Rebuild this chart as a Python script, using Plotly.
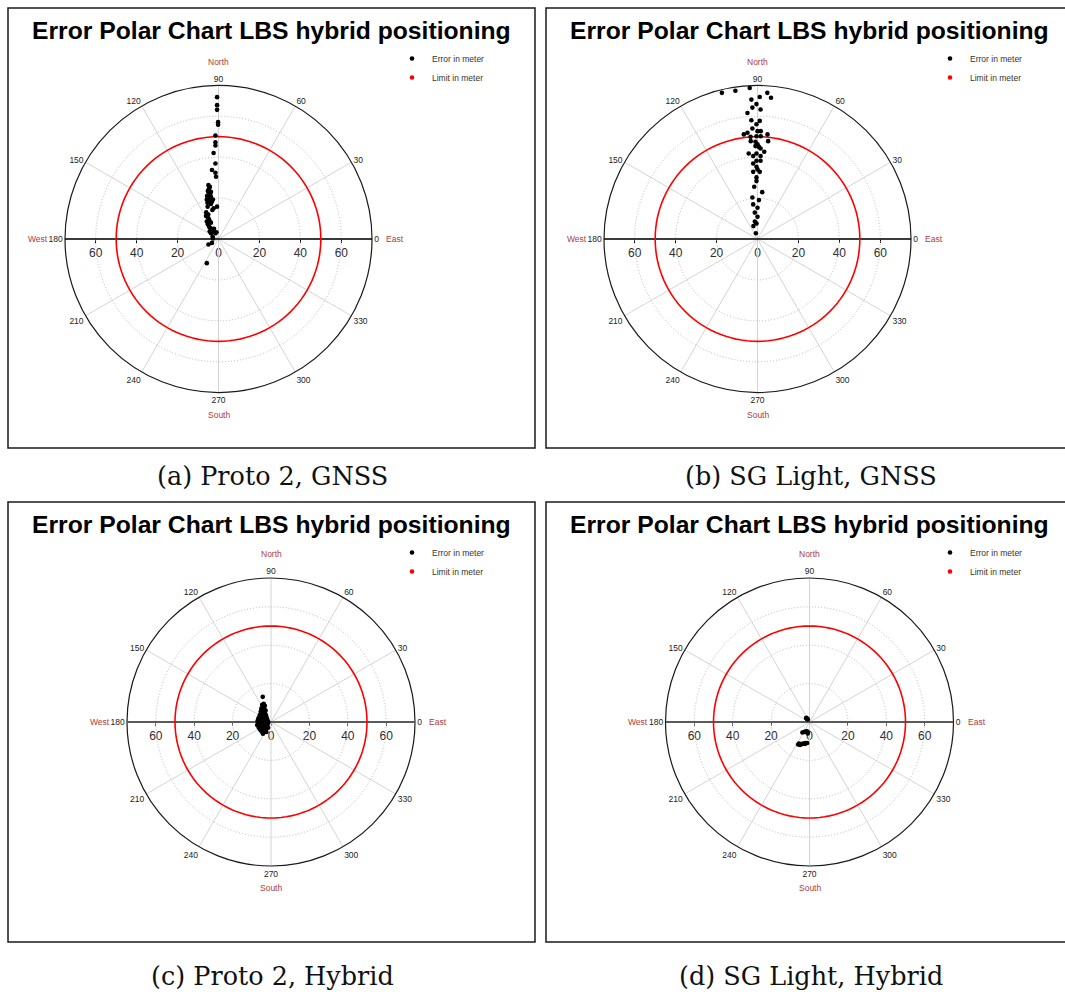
import numpy as np
import plotly.graph_objects as go

W, H = 1065, 992

TITLE = "Error Polar Chart LBS hybrid positioning"
CAPTIONS = ["(a) Proto 2, GNSS", "(b) SG Light, GNSS", "(c) Proto 2, Hybrid", "(d) SG Light, Hybrid"]
SERIES_ERROR = "Error in meter"
SERIES_LIMIT = "Limit in meter"
ANGLE_TICKS = [0, 30, 60, 90, 120, 150, 180, 210, 240, 270, 300, 330]
RADIAL_GRID = [20, 40, 60]
AXIS_TICKS = [-60, -40, -20, 0, 20, 40, 60]
AXIS_TICK_TEXT = ["60", "40", "20", "0", "20", "40", "60"]
RANGE_MAX = 75
LIMIT_M = 50
LIMIT_BEARINGS = list(range(0, 361, 3))

# error offsets in meters (east, north)
A_EAST = [-0.7, -0.7, -0.7, -0.2, -0.2, -1.5, -1.5, -1.5, -2.4, -1.5, -3.2, -1.5, -1.2,
          -4.9, -4.6, -3.7, -4.9, -3.7, -5.7, -4.1, -2.7, -5.4, -3.7, -0.7, -2.4,
          -6.1, -4.9, -5.7, -3.7, -4.6, -3.2, -2.4, -3.7, -1.5, -2.7, -1.0, -2.9,
          -4.9, -3.2, -5.7, -4.2, -5.2, -4.0, -5.6, -4.4, -5.0, -3.2, -6.0, -5.0,
          -4.5, -5.2, -3.9, -4.3, -2.2, -5.3, -3.0]
A_NORTH = [69.3, 65.4, 63.1, 57.1, 55.8, 50.6, 47.3, 45.7, 42.0, 36.9, 33.7, 32.4, 30.4,
           26.3, 24.7, 23.1, 21.8, 20.7, 19.3, 19.0, 19.3, 17.7, 17.1, 15.8, 15.0,
           11.2, 10.1, 8.5, 8.0, 6.0, 4.4, 3.6, 2.8, 2.8, 0.3, 3.3, 1.1,
           -2.7, -1.9, -11.8, 25.5, 23.5, 22.3, 21.0, 20.0, 18.5, 18.2, 13.0, 12.0,
           9.2, 7.2, 5.3, 3.8, 5.0, 15.8, 14.2]

B_EAST = [-17.4, -10.8, -3.8, 4.8, 6.6, 1.1, -3.0, -0.5, -2.5, 1.5, -4.9, -3.0, 1.1,
          -0.5, -2.5, 0.0, 1.6, -4.9, -6.7, 4.9, -3.4, -0.5, 1.6, -3.3, 5.2, -1.0,
          0.0, -1.0, 0.7, 1.5, 3.3, -4.3, -0.5, -2.1, 1.5, -0.5, 1.5, -2.1, -0.5,
          0.0, -2.1, 1.1, -0.5, -0.5, -1.6, 2.3, -2.5, 0.7, -2.1, 0.0, -1.3, 0.0,
          -1.3, -0.5, -2.0, -0.8]
B_NORTH = [71.4, 72.4, 73.8, 71.4, 69.0, 69.4, 68.1, 65.9, 64.2, 63.3, 61.6, 58.0, 57.7,
           56.1, 54.0, 52.7, 52.7, 51.9, 51.1, 51.1, 49.9, 50.2, 50.2, 47.8, 47.8, 47.5,
           46.3, 45.4, 45.0, 44.2, 42.6, 41.8, 41.8, 40.5, 40.5, 38.2, 38.2, 36.9, 35.3,
           34.0, 32.8, 32.8, 30.1, 28.3, 25.5, 22.9, 20.3, 19.0, 16.9, 15.3, 12.9, 10.9,
           8.5, 7.6, 6.3, 2.8]

C_EAST = [-4.3, -3.8, -4.6, -3.2, -4.0, -5.0, -3.5, -4.4, -2.8, -5.3, -3.9, -4.8, -3.1,
          -5.6, -4.2, -2.6, -6.0, -4.9, -3.6, -2.2, -6.6, -5.4, -4.1, -2.9, -1.8, -7.0,
          -6.0, -4.7, -3.4, -2.3, -1.4, -6.5, -5.3, -4.0, -2.8, -1.7, -7.2, -5.9, -4.6,
          -3.3, -2.1, -6.4, -5.1, -3.8, -2.6, -1.5, -5.7, -4.3, -3.0, -4.9, -3.6, -4.2,
          -2.4]
C_NORTH = [13.1, 9.5, 9.0, 8.4, 7.8, 7.2, 6.9, 6.3, 6.0, 5.6, 5.2, 4.7, 4.4, 4.0, 3.7,
           3.5, 3.0, 2.7, 2.4, 2.1, 1.8, 1.5, 1.3, 1.0, 0.8, 0.5, 0.3, 0.1, -0.1, -0.3,
           -0.2, -0.8, -1.0, -1.2, -1.4, -1.1, -1.6, -1.9, -2.1, -2.3, -2.0, -2.8, -3.0,
           -3.2, -3.4, -3.0, -3.9, -4.1, -4.4, -5.0, -5.4, -6.1, -5.2]

D_EAST = [-1.4, -1.6, -1.0, -1.7, -0.9, -3.7, -2.8, -2.1, -1.4, -0.9, -0.9,
          -5.9, -5.4, -4.9, -4.4, -3.7, -3.0, -2.4, -1.9, -1.2]
D_NORTH = [1.7, 2.2, 1.4, 2.0, 1.4, -5.5, -5.2, -5.0, -4.8, -5.2, -6.0,
           -11.7, -11.2, -11.9, -11.6, -11.4, -11.2, -11.4, -10.9, -10.9]

EAST = [A_EAST, B_EAST, C_EAST, D_EAST]
NORTH = [A_NORTH, B_NORTH, C_NORTH, D_NORTH]

# layout geometry (pixels)
PANELS = [
    dict(cx=218.5, cy=239, R=153.5, box=(8, 8, 535, 448), cap_y=476, axis_col="#000000", axis_w=1.4),
    dict(cx=757.5, cy=239, R=153.5, box=(546, 8, 1073, 448), cap_y=476, axis_col="#000000", axis_w=1.4),
    dict(cx=271, cy=722, R=144, box=(8, 502, 535, 942), cap_y=976, axis_col="#5a5a5a", axis_w=2),
    dict(cx=809.5, cy=722, R=144, box=(546, 502, 1073, 942), cap_y=976, axis_col="#5a5a5a", axis_w=2),
]

CARD_COL = "#b03a3a"
SANS = "Liberation Sans, Arial, sans-serif"


def px(x):
    return x / W


def py(y):
    return 1 - y / H


fig = go.Figure()
annotations = []
shapes = []
layout_extra = {}

for i, p in enumerate(PANELS):
    k = "" if i == 0 else str(i + 1)
    polar_id = "polar" + k
    leg_id = "legend" + k
    cx, cy, R = p["cx"], p["cy"], p["R"]
    e = np.array(EAST[i], dtype=float)
    n = np.array(NORTH[i], dtype=float)
    r = np.hypot(e, n)
    th = np.degrees(np.arctan2(n, e))

    # West-East axis line through the centre
    fig.add_trace(go.Scatterpolar(
        r=[RANGE_MAX, RANGE_MAX], theta=[180, 0], mode="lines",
        line=dict(color=p["axis_col"], width=p["axis_w"]),
        subplot=polar_id, showlegend=False, hoverinfo="skip"))
    # limit circle
    fig.add_trace(go.Scatterpolar(
        r=[LIMIT_M] * len(LIMIT_BEARINGS), theta=LIMIT_BEARINGS, mode="lines",
        line=dict(color="#ff0000", width=1.6),
        subplot=polar_id, showlegend=False, hoverinfo="skip"))
    # error points
    fig.add_trace(go.Scatterpolar(
        r=r, theta=th, mode="markers", name=SERIES_ERROR,
        marker=dict(color="#000000", size=4.6),
        subplot=polar_id, legend=leg_id))
    # legend entry for limit
    fig.add_trace(go.Scatterpolar(
        r=[None], theta=[None], mode="markers", name=SERIES_LIMIT,
        marker=dict(color="#ff0000", size=4.6),
        subplot=polar_id, legend=leg_id))
    # cartesian helper for the W-E distance ticks
    fig.add_trace(go.Scatter(
        x=[None], y=[None], xaxis="x" + k, yaxis="y" + k,
        showlegend=False, hoverinfo="skip"))

    layout_extra[polar_id] = dict(
        domain=dict(x=[px(cx - R), px(cx + R)], y=[py(cy + R), py(cy - R)]),
        bgcolor="rgba(0,0,0,0)",
        angularaxis=dict(
            direction="counterclockwise", rotation=0,
            tickmode="array", tickvals=ANGLE_TICKS, ticktext=[str(a) for a in ANGLE_TICKS],
            ticks="", showline=True, linecolor="#1a1a1a", linewidth=1.2,
            showgrid=True, gridcolor="#d4d4d4", gridwidth=1,
            tickfont=dict(family=SANS, size=8.5, color="#222222"),
            layer="below traces"),
        radialaxis=dict(
            range=[0, RANGE_MAX], tickvals=RADIAL_GRID, showticklabels=False,
            ticks="", showline=False, showgrid=True, gridcolor="#b8b8b8",
            griddash="1px,2px", gridwidth=1, layer="below traces"),
    )
    layout_extra["xaxis" + k] = dict(
        domain=[px(cx - R), px(cx + R)], range=[-RANGE_MAX, RANGE_MAX],
        anchor="free", position=py(cy), showline=False, showgrid=False, zeroline=False,
        ticks="outside", ticklen=3, tickwidth=1, tickcolor=p["axis_col"],
        tickmode="array", tickvals=AXIS_TICKS, ticktext=AXIS_TICK_TEXT,
        tickfont=dict(family=SANS, size=12, color="#2b2b33"), fixedrange=True)
    layout_extra["yaxis" + k] = dict(
        domain=[py(cy + R), py(cy - R)], range=[-RANGE_MAX, RANGE_MAX],
        anchor="x" + k, visible=False, fixedrange=True)

    bx0, by0, bx1, by1 = p["box"]
    layout_extra[leg_id] = dict(
        x=px(bx0 + 424 - 40), y=py(by0 + 36), xanchor="left", yanchor="top",
        bgcolor="rgba(0,0,0,0)", borderwidth=0, tracegroupgap=0,
        font=dict(family=SANS, size=8.5, color="#333333"))

    shapes.append(dict(type="rect", xref="paper", yref="paper",
                       x0=px(bx0), x1=px(bx1), y0=py(by1), y1=py(by0),
                       line=dict(color="#1a1a1a", width=1.5), fillcolor="rgba(0,0,0,0)"))

    bxc = (bx0 + bx1) / 2
    annotations.append(dict(text="<b>" + TITLE + "</b>", x=px(bxc), y=py(by0 + 22.5),
                            xref="paper", yref="paper", showarrow=False,
                            xanchor="center", yanchor="middle",
                            font=dict(family=SANS, size=24.7, color="#000000")))
    annotations.append(dict(text=CAPTIONS[i], x=px(bxc + 1), y=py(p["cap_y"]),
                            xref="paper", yref="paper", showarrow=False,
                            xanchor="center", yanchor="middle",
                            font=dict(family="DejaVu Serif, serif", size=25.5, color="#111111")))
    card_font = dict(family=SANS, size=8.5, color=CARD_COL)
    annotations.append(dict(text="North", x=px(cx), y=py(cy - R - 24), xref="paper", yref="paper",
                            showarrow=False, xanchor="center", yanchor="middle", font=card_font))
    annotations.append(dict(text="South", x=px(cx), y=py(cy + R + 22), xref="paper", yref="paper",
                            showarrow=False, xanchor="center", yanchor="middle", font=card_font))
    annotations.append(dict(text="West", x=px(cx - R - 15.5), y=py(cy), xref="paper", yref="paper",
                            showarrow=False, xanchor="right", yanchor="middle", font=card_font))
    annotations.append(dict(text="East", x=px(cx + R + 12), y=py(cy), xref="paper", yref="paper",
                            showarrow=False, xanchor="left", yanchor="middle", font=card_font))

fig.update_layout(
    width=W, height=H, autosize=False,
    margin=dict(l=0, r=0, t=0, b=0, pad=0),
    paper_bgcolor="#ffffff", plot_bgcolor="rgba(0,0,0,0)",
    font=dict(family=SANS, color="#222222"),
    annotations=annotations, shapes=shapes,
    **layout_extra,
)

fig.write_html("out.html", config={"displayModeBar": False},
               post_script="document.body.style.margin='0';")
